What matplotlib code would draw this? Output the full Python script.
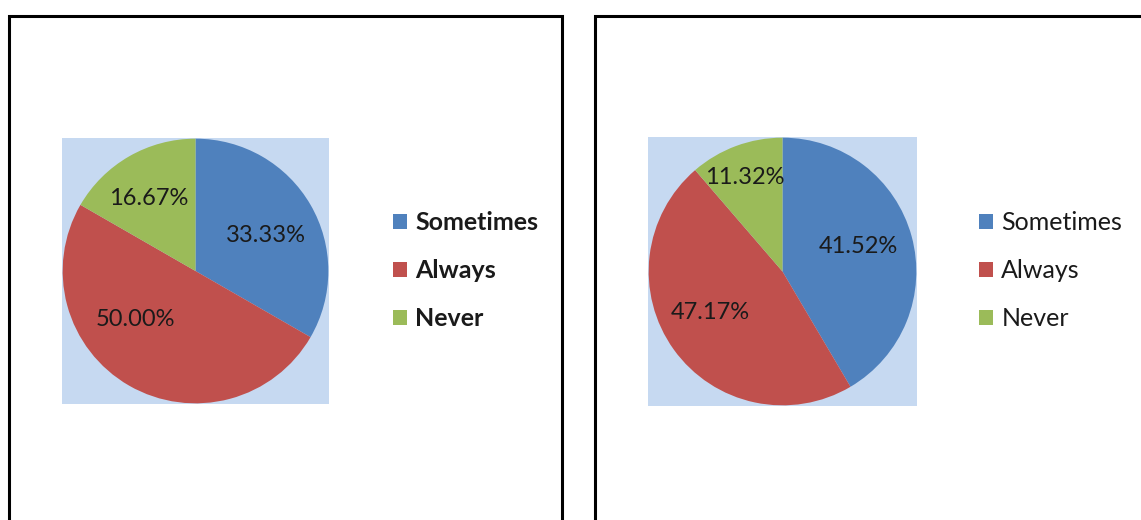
import matplotlib.pyplot as plt
from matplotlib.patches import Rectangle, Patch

# survey answers for the two groups
categories = ["Sometimes", "Always", "Never"]
left_values = [33.33, 50.00, 16.67]
right_values = [41.52, 47.17, 11.32]

colors = ["#4F81BD", "#C0504D", "#9BBB59"]
plot_bg = "#C6D9F1"

# where each percentage label sits inside its pie (data units, radius = 1)
left_label_pos = [(0.53, 0.27), (-0.45, -0.37), (-0.35, 0.55)]
right_label_pos = [(0.57, 0.19), (-0.54, -0.31), (-0.28, 0.70)]

W, H = 1141, 520
fig = plt.figure(figsize=(W / 100, H / 100), dpi=100)
fig.patch.set_facecolor("white")


def px_rect(x0, y0, x1, y1):
    # pixel box (top-left origin) -> figure fraction [left, bottom, width, height]
    return [x0 / W, (H - y1) / H, (x1 - x0) / W, (y1 - y0) / H]


def chart_frame(x0, y0, x1, y1):
    l, b, w, h = px_rect(x0, y0, x1, y1)
    fig.patches.append(Rectangle((l, b), w, h, transform=fig.transFigure,
                                 fill=False, edgecolor="black", linewidth=2.2))


def draw_pie(box, values, label_pos, bold, legend_xy):
    ax = fig.add_axes(px_rect(*box))
    ax.pie(values, colors=colors, startangle=90, counterclock=False,
           radius=1.0, wedgeprops=dict(linewidth=0))
    # pie() switches the frame off, bring the plot-area fill back
    ax.set_frame_on(True)
    ax.set_facecolor(plot_bg)
    for v, (x, y) in zip(values, label_pos):
        ax.text(x, y, f"{v:.2f}%", ha="center", va="center",
                fontsize=17, color="#1a1a1a", family="Lato")
    ax.set_xlim(-1.005, 1.005)
    ax.set_ylim(-1.005, 1.005)
    ax.set_aspect("auto")
    ax.set_xticks([])
    ax.set_yticks([])
    for s in ax.spines.values():
        s.set_visible(False)

    handles = [Patch(facecolor=c, edgecolor="none") for c in colors]
    lx, ly = legend_xy
    fig.legend(handles, categories, loc="center left",
               bbox_to_anchor=(lx / W, 1 - ly / H), frameon=False,
               handlelength=0.56, handleheight=0.56, handletextpad=0.33,
               labelspacing=1.0, borderpad=0, borderaxespad=0,
               prop=dict(family="Lato", size=18,
                         weight="bold" if bold else "normal"),
               labelcolor="#1a1a1a")


chart_frame(9, 16, 562, 540)
chart_frame(595, 16, 1160, 540)

draw_pie((62, 138, 329, 404), left_values, left_label_pos, True, (393, 271))
draw_pie((648, 137, 917, 406), right_values, right_label_pos, False, (979, 271))

fig.savefig("out.png", dpi=100)
